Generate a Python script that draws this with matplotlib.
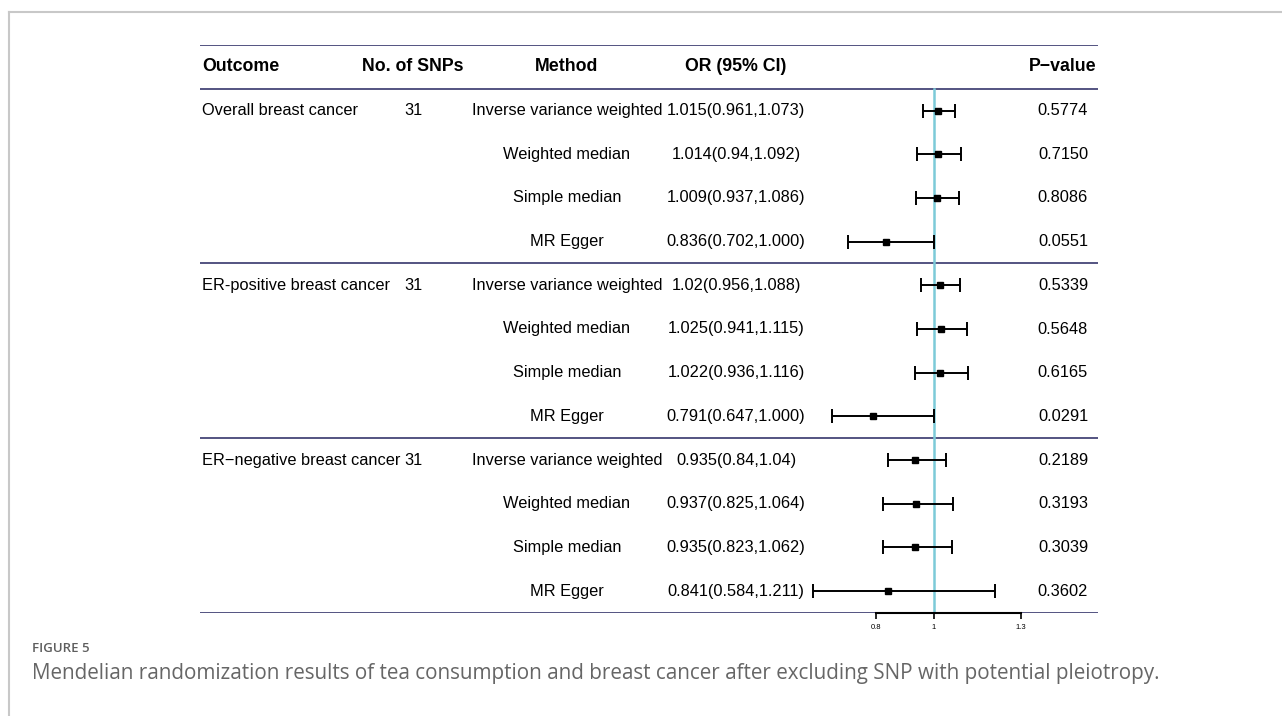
import matplotlib
matplotlib.use('Agg')
import matplotlib.pyplot as plt
from matplotlib.lines import Line2D
from matplotlib.transforms import blended_transform_factory

plt.rcParams['font.family'] = ['Liberation Sans', 'DejaVu Sans']

# Dados
outcomes = ['Overall breast cancer', 'ER-positive breast cancer', 'ER\u2212negative breast cancer']
n_snps = [31, 31, 31]
methods = ['Inverse variance weighted', 'Weighted median', 'Simple median', 'MR Egger']
or_vals = [1.015, 1.014, 1.009, 0.836, 1.02, 1.025, 1.022, 0.791, 0.935, 0.937, 0.935, 0.841]
ci_low = [0.961, 0.94, 0.937, 0.702, 0.956, 0.941, 0.936, 0.647, 0.84, 0.825, 0.823, 0.584]
ci_high = [1.073, 1.092, 1.086, 1.000, 1.088, 1.115, 1.116, 1.000, 1.04, 1.064, 1.062, 1.211]
or_labels = ['1.015(0.961,1.073)', '1.014(0.94,1.092)', '1.009(0.937,1.086)', '0.836(0.702,1.000)',
             '1.02(0.956,1.088)', '1.025(0.941,1.115)', '1.022(0.936,1.116)', '0.791(0.647,1.000)',
             '0.935(0.84,1.04)', '0.937(0.825,1.064)', '0.935(0.823,1.062)', '0.841(0.584,1.211)']
p_values = ['0.5774', '0.7150', '0.8086', '0.0551', '0.5339', '0.5648', '0.6165', '0.0291',
            '0.2189', '0.3193', '0.3039', '0.3602']
x_ticks = [0.8, 1, 1.3]
x_tick_labels = ['0.8', '1', '1.3']

W, H = 1282, 716
fig = plt.figure(figsize=(W / 100, H / 100), dpi=100)

# moldura cinza
fig.add_artist(Line2D([9 / W, 1], [1 - 12 / H, 1 - 12 / H], color='#c8c8c8', lw=1.5))
fig.add_artist(Line2D([9 / W, 9 / W], [0, 1 - 12 / H], color='#c8c8c8', lw=1.5))

left_px, right_px, top_px, bot_px = 200, 1098, 45, 613
ax = fig.add_axes([left_px / W, 1 - bot_px / H, (right_px - left_px) / W, (bot_px - top_px) / H])
ppu = 290.0  # pixels por unidade de OR
ax.set_xlim(1 - (934 - left_px) / ppu, 1 + (right_px - 934) / ppu)
n = len(or_vals)
ax.set_ylim(n - 0.5, -1.5)
for s in ['top', 'left', 'right']:
    ax.spines[s].set_visible(False)
ax.spines['bottom'].set_bounds(x_ticks[0], x_ticks[-1])
ax.spines['bottom'].set_linewidth(1.5)
ax.spines['bottom'].set_zorder(5)
ax.set_yticks([])
ax.set_xticks(x_ticks)
ax.set_xticklabels(x_tick_labels)
ax.tick_params(axis='x', length=4, width=1.2, labelsize=5.5, pad=4)

navy = '#24245f'
for yy in [-1.5, -0.5, 3.5, 7.5, n - 0.5]:
    ax.axhline(yy, color=navy, lw=1.1, zorder=1)

ax.plot([1, 1], [-0.5, n - 0.5], color='#7ccad8', lw=1.8, zorder=2)

rows = list(range(n))
xerr = [[o - l for o, l in zip(or_vals, ci_low)], [h - o for o, h in zip(or_vals, ci_high)]]
ax.errorbar(or_vals, rows, xerr=xerr, fmt='s', color='black', ms=4, lw=1.4,
            capsize=5, capthick=1.4, zorder=3)

# texto da tabela
tr = blended_transform_factory(fig.transFigure, ax.transData)
fs = 11.8
fh = 12.8
ax.text(202 / W, -1, 'Outcome', transform=tr, fontsize=fh, fontweight='bold', va='center', ha='left')
ax.text(413 / W, -1, 'No. of SNPs', transform=tr, fontsize=fh, fontweight='bold', va='center', ha='center')
ax.text(567 / W, -1, 'Method', transform=tr, fontsize=fh, fontweight='bold', va='center', ha='center')
ax.text(736 / W, -1, 'OR (95% CI)', transform=tr, fontsize=fh, fontweight='bold', va='center', ha='center')
ax.text(1063 / W, -1, 'P\u2212value', transform=tr, fontsize=fh, fontweight='bold', va='center', ha='center')

for g, name in enumerate(outcomes):
    r0 = g * len(methods)
    ax.text(202 / W, r0, name, transform=tr, fontsize=fs, va='center', ha='left')
    ax.text(413 / W, r0, str(n_snps[g]), transform=tr, fontsize=fs, va='center', ha='center')
    for m, meth in enumerate(methods):
        ax.text(567 / W, r0 + m, meth, transform=tr, fontsize=fs, va='center', ha='center')

for i in rows:
    ax.text(736 / W, i, or_labels[i], transform=tr, fontsize=fs, va='center', ha='center')
    ax.text(1063 / W, i, p_values[i], transform=tr, fontsize=fs, va='center', ha='center')

# legenda da figura
fig.text(32 / W, 1 - 649 / H, 'FIGURE 5', fontsize=9.5, color='#5e5e5e', family='Open Sans',
         fontweight='semibold', va='center')
fig.text(32 / W, 1 - 674 / H,
         'Mendelian randomization results of tea consumption and breast cancer after excluding SNP with potential pleiotropy.',
         fontsize=14.9, color='#666666', family='Open Sans', va='center')

fig.savefig('out.png', dpi=100)
